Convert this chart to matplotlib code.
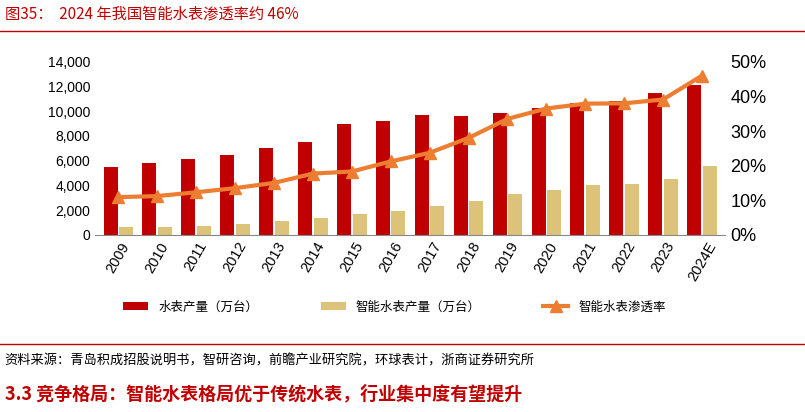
import matplotlib
matplotlib.use("Agg")
import matplotlib.pyplot as plt
import numpy as np

plt.rcParams['font.family'] = ['Noto Sans CJK SC']

years = ["2009","2010","2011","2012","2013","2014","2015","2016","2017","2018","2019","2020","2021","2022","2023","2024E"]
meter = [5500,5800,6100,6500,7050,7550,9000,9200,9700,9600,9850,10250,10700,10800,11500,12100]
smart = [600,650,750,880,1100,1350,1650,1950,2300,2700,3300,3650,4050,4100,4500,5600]
rate = [10.9,11.2,12.3,13.5,15.0,17.7,18.3,21.2,23.7,28.0,33.5,36.5,37.9,38.0,39.1,46.0]

fig = plt.figure(figsize=(8.05,4.12), dpi=100)
ax = fig.add_axes([0.118, 0.43, 0.783, 0.42])
x = np.arange(len(years))
w = 0.36
ax.bar(x-0.2, meter, w, color='#C00000', label='水表产量（万台）')
ax.bar(x+0.2, smart, w, color='#DDC27A', label='智能水表产量（万台）')
ax.set_ylim(0,14000)
ax.set_yticks(range(0,14001,2000))
ax.set_yticklabels([f"{v:,}" for v in range(0,14001,2000)], fontsize=10, family='Liberation Sans')
ax.set_xlim(-0.6, len(years)-0.4)
ax.set_xticks(x)
ax.set_xticklabels(years, rotation=60, fontsize=10.5, ha='center', family='Liberation Sans')
ax2 = ax.twinx()
ax2.plot(x, rate, color='#ED7D31', lw=3, marker='^', ms=9, label='智能水表渗透率')
ax2.set_ylim(0,50)
ax2.set_yticks(range(0,51,10))
ax2.set_yticklabels([f"{v}%" for v in range(0,51,10)], fontsize=13, family='Liberation Sans')
for a in (ax, ax2):
    for s in ['top','right','left']:
        a.spines[s].set_visible(False)
    a.tick_params(length=0)
ax.spines['bottom'].set_color('#888888')
ax2.spines['bottom'].set_visible(False)

h1,l1 = ax.get_legend_handles_labels()
h2,l2 = ax2.get_legend_handles_labels()
fig.legend(h1+h2, l1+l2, loc='center', bbox_to_anchor=(0.49,0.255), ncol=3, frameon=False, fontsize=9, columnspacing=5)

fig.text(0.006, 0.965, "图35：  2024 年我国智能水表渗透率约 46%", color='#C00000', fontsize=11, va='center')
fig.add_artist(plt.Line2D([0.0,1.0],[0.925,0.925], color='#C00000', lw=1))
fig.add_artist(plt.Line2D([0.0,1.0],[0.165,0.165], color='#C00000', lw=1))
fig.text(0.006, 0.125, "资料来源：青岛积成招股说明书，智研咨询，前瞻产业研究院，环球表计，浙商证券研究所", fontsize=9.5, va='center')
fig.text(0.006, 0.045, "3.3 竞争格局：智能水表格局优于传统水表，行业集中度有望提升", color='#C00000', fontsize=13, fontweight='bold', va='center')
fig.savefig("out.png", dpi=100)
